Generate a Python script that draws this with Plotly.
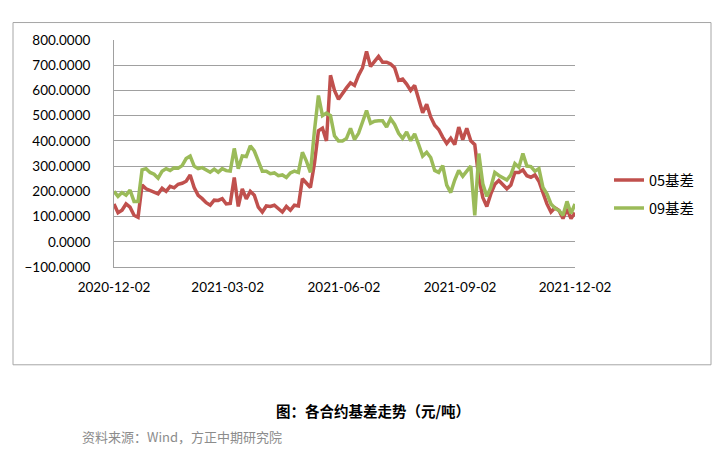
import pandas as pd
import plotly.graph_objects as go

start_date = "2020-12-02"
end_date = "2021-12-02"

basis_05 = [150, 115, 125, 150, 137, 105, 97, 225, 210, 203, 194, 190, 212, 200, 220, 214,
            228, 232, 240, 265, 215, 184, 171, 155, 145, 165, 164, 171, 150, 152, 255, 140,
            210, 170, 200, 185, 137, 118, 142, 140, 145, 131, 118, 140, 125, 145, 142, 250,
            230, 215, 310, 440, 450, 400, 660, 600, 565, 590, 610, 630, 620, 660, 690, 755,
            695, 715, 735, 712, 712, 705, 690, 640, 645, 625, 600, 620, 570, 512, 545, 495,
            462, 445, 415, 390, 410, 385, 455, 405, 450, 400, 385, 255, 176, 140, 190, 228,
            243, 225, 210, 225, 275, 275, 285, 262, 256, 265, 240, 195, 150, 118, 135, 124,
            92, 130, 92, 115]

basis_09 = [200, 180, 195, 185, 205, 160, 160, 285, 290, 275, 268, 252, 280, 290, 283, 293,
            292, 302, 330, 340, 300, 290, 294, 285, 276, 288, 276, 290, 282, 280, 370, 290,
            340, 338, 380, 360, 315, 280, 280, 270, 273, 262, 265, 255, 273, 280, 275, 355,
            320, 275, 440, 580, 500, 510, 500, 420, 400, 400, 410, 450, 405, 430, 475, 520,
            470, 478, 480, 480, 455, 488, 465, 430, 410, 435, 401, 428, 385, 340, 355, 334,
            283, 275, 302, 225, 195, 245, 283, 260, 280, 300, 105, 350, 230, 180, 216, 275,
            263, 255, 245, 265, 310, 295, 350, 300, 298, 280, 290, 216, 190, 150, 133, 124,
            105, 160, 112, 150]

series_names = ["05基差", "09基差"]
series_colors = ["#C0504D", "#9BBB59"]
tick_dates = ["2020-12-02", "2021-03-02", "2021-06-02", "2021-09-02", "2021-12-02"]
y_ticks = list(range(-100, 801, 100))

dates = pd.date_range(start_date, end_date, periods=len(basis_05))

fig = go.Figure()
fig.add_trace(go.Scatter(x=dates, y=basis_05, mode="lines", name=series_names[0],
                         line=dict(color=series_colors[0], width=3.5), legend="legend"))
fig.add_trace(go.Scatter(x=dates, y=basis_09, mode="lines", name=series_names[1],
                         line=dict(color=series_colors[1], width=3.5), legend="legend2"))

L, T, W, H = 114, 39.5, 461, 227.5

def px(xp):
    return (xp - L) / W

def py(yp):
    return (T + H - yp) / H

legend_font = dict(size=14.5, family="'Noto Sans CJK SC', Lato, sans-serif", color="#000000")

fig.update_layout(
    width=721, height=456,
    margin=dict(l=L, r=721 - L - W, t=T, b=456 - T - H),
    paper_bgcolor="white", plot_bgcolor="white",
    font=dict(family="Lato, 'Noto Sans CJK SC', sans-serif", size=13, color="#000000"),
    xaxis=dict(type="date", range=[start_date, end_date], tickvals=tick_dates, ticktext=tick_dates,
               showgrid=False, showline=True, linecolor="#A0A0A0", linewidth=1, zeroline=False,
               ticks="", ticklabelstandoff=8, tickfont=dict(size=13.5)),
    yaxis=dict(range=[-100, 800], tickvals=y_ticks, tickformat=".4f", showgrid=True,
               gridcolor="#A0A0A0", gridwidth=1, showline=True, linecolor="#A0A0A0", linewidth=1,
               zeroline=False, ticks="", ticklabelstandoff=20, tickfont=dict(size=13.5)),
    legend=dict(x=px(609), y=py(180), xanchor="left", yanchor="middle", bgcolor="rgba(0,0,0,0)",
                font=legend_font),
    legend2=dict(x=px(609), y=py(208), xanchor="left", yanchor="middle", bgcolor="rgba(0,0,0,0)",
                 font=legend_font),
    showlegend=True,
)

fig.add_shape(type="rect", xref="paper", yref="paper", x0=px(13), x1=px(711), y0=py(365), y1=py(22),
              line=dict(color="#A6A6A6", width=1), fillcolor="rgba(0,0,0,0)", layer="below")

fig.add_annotation(xref="paper", yref="paper", x=px(373), y=py(411), xanchor="center", yanchor="middle",
                   text="<b>图：各合约基差走势（元/吨）</b>", showarrow=False,
                   font=dict(size=14.5, family="'Noto Sans CJK SC', sans-serif", color="#000000"))
fig.add_annotation(xref="paper", yref="paper", x=px(80), y=py(437), xanchor="left", yanchor="middle",
                   text="资料来源：Wind，方正中期研究院", showarrow=False,
                   font=dict(size=13, family="'Noto Sans CJK SC', sans-serif", color="#8C8C8C"))

fig.write_html("out.html")
